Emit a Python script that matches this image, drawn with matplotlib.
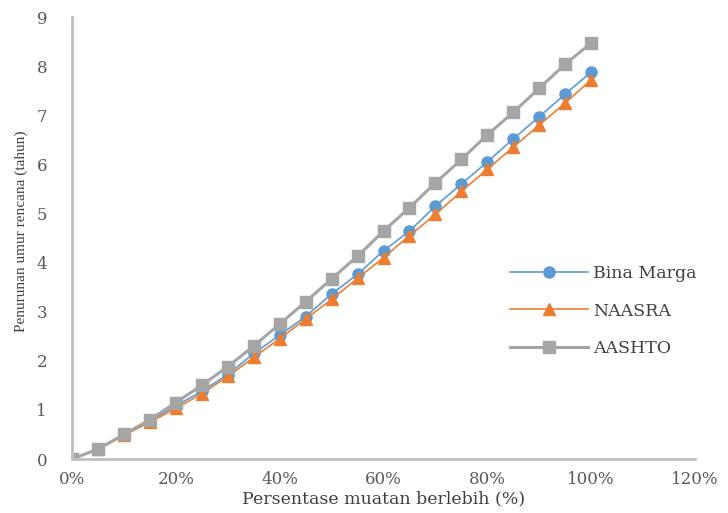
import matplotlib.pyplot as plt
from matplotlib.ticker import PercentFormatter

# overload percentage (%) and reduction of design life (years)
muatan = [0, 5, 10, 15, 20, 25, 30, 35, 40, 45, 50, 55, 60, 65, 70, 75, 80, 85, 90, 95, 100]
bina_marga = [0, 0.2, 0.5, 0.78, 1.08, 1.38, 1.72, 2.15, 2.52, 2.9, 3.36, 3.76, 4.24, 4.64,
              5.15, 5.6, 6.05, 6.52, 6.97, 7.43, 7.88]
naasra = [0, 0.2, 0.48, 0.75, 1.03, 1.33, 1.68, 2.07, 2.45, 2.85, 3.25, 3.68, 4.1, 4.55,
          4.98, 5.45, 5.9, 6.35, 6.8, 7.25, 7.72]
aashto = [0, 0.2, 0.5, 0.8, 1.15, 1.5, 1.88, 2.3, 2.75, 3.2, 3.67, 4.13, 4.64, 5.12,
          5.62, 6.1, 6.6, 7.06, 7.55, 8.04, 8.47]

fig = plt.figure(figsize=(7.28, 5.13), dpi=100)
ax = fig.add_axes([72 / 728, 54 / 513, 623 / 728, 442 / 513])

ax.plot(muatan, bina_marga, color='#5B9BD5', lw=1.2, marker='o', ms=8, label='Bina Marga')
ax.plot(muatan, naasra, color='#ED7D31', lw=1.2, marker='^', ms=8, label='NAASRA')
ax.plot(muatan, aashto, color='#A5A5A5', lw=2.2, marker='s', ms=8, label='AASHTO')

ax.set_xlim(0, 120)
ax.set_ylim(0, 9)
ax.set_xticks(range(0, 121, 20))
ax.set_yticks(range(0, 10))
ax.xaxis.set_major_formatter(PercentFormatter(decimals=0))

for side in ['top', 'right']:
    ax.spines[side].set_visible(False)
for side in ['left', 'bottom']:
    ax.spines[side].set_color('#BFBFBF')
    ax.spines[side].set_linewidth(2)
ax.tick_params(colors='#595959', labelsize=12, length=0)
ax.tick_params(axis='x', pad=9)
ax.tick_params(axis='y', pad=18)
for lbl in ax.get_xticklabels() + ax.get_yticklabels():
    lbl.set_family('DejaVu Serif')

ax.set_xlabel('Persentase muatan berlebih (%)', family='DejaVu Serif', fontsize=12.5,
              color='#404040', labelpad=1)
ax.set_ylabel('Penurunan umur rencana (tahun)', family='Liberation Serif', fontsize=11,
              color='#404040')
ax.yaxis.set_label_coords(-0.07, 0.516)

leg = ax.legend(loc='upper left', bbox_to_anchor=(0.678, 0.475), frameon=False,
                prop={'family': 'DejaVu Serif', 'size': 12.5}, labelspacing=1.2,
                handlelength=4.5, handletextpad=0.3, labelcolor='#404040')

fig.savefig('out.png', dpi=100)
